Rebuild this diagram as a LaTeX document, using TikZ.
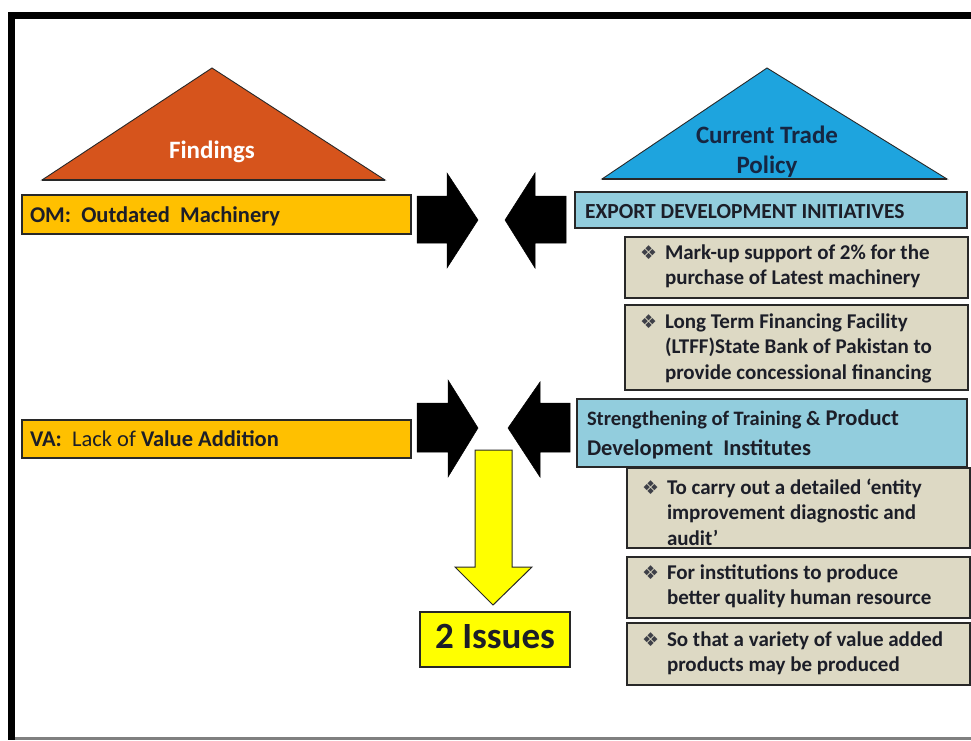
\documentclass[tikz,border=0pt]{standalone}
\usepackage{fontspec}
\setmainfont{Carlito}
\newfontfamily\dejavu{DejaVu Sans}
\definecolor{findc}{RGB}{214,84,28}
\definecolor{polc}{RGB}{30,164,222}
\definecolor{omc}{RGB}{255,192,0}
\definecolor{lblue}{RGB}{146,205,221}
\definecolor{tanc}{RGB}{221,217,196}
\definecolor{yel}{RGB}{255,255,0}
\definecolor{ink}{RGB}{28,30,40}
\definecolor{navy}{RGB}{22,38,66}
\definecolor{edge}{RGB}{40,40,40}
\newcommand\mybul{{\dejavu\fontsize{19}{19}\selectfont\color{ink!85}❖}}
\newcommand\bfont{\fontsize{21}{25.5}\selectfont\bfseries}
\begin{document}
\begin{tikzpicture}[x=1pt,y=-1pt,
  box/.style={draw=edge,line width=1.6pt,anchor=north west,inner sep=0pt,outer sep=0pt},
  btxt/.style={anchor=base west,inner sep=0pt,outer sep=0pt,text=ink},
  ctxt/.style={anchor=base,inner sep=0pt,outer sep=0pt},
  tri/.style={draw=edge,line width=0.9pt,line join=miter},
  blk/.style={fill=black,draw=black,line width=0.5pt,line join=miter},
  yarrow/.style={fill=yel,draw=edge,line width=1pt,line join=miter}]
\useasboundingbox (0,0) rectangle (971,740);
\fill[white] (0,0) rectangle (971,740);
% frame
\fill[black] (8,12) rectangle (971,19);
\fill[black] (8,12) rectangle (15,740);
\fill[black!50] (15,737) rectangle (971,740);

% triangles
\coordinate (fA) at (212,68);
\coordinate (fL) at (42,180);
\coordinate (fR) at (385,180);
\draw[tri,fill=findc] (fA) -- (fR) -- (fL) -- cycle;
\draw[edge,line width=1.6pt] (fL) -- (fR);
\node[ctxt,text=white,font=\fontsize{25}{30}\selectfont\bfseries] (findt) at (212,158) {Findings};

\coordinate (pA) at (767,68);
\coordinate (pL) at (602,179);
\coordinate (pR) at (947,179);
\draw[tri,fill=polc] (pA) -- (pR) -- (pL) -- cycle;
\draw[edge,line width=1.6pt] (pL) -- (pR);
\node[ctxt,text=navy,font=\fontsize{25}{30}\selectfont\bfseries] (polt) at (767,143)
  {\begin{tabular}[t]{@{}c@{}}Current Trade\\Policy\end{tabular}};

% left boxes
\node[box,fill=omc,minimum width=389pt,minimum height=39pt] (om) at (22,195) {};
\node[btxt,font=\fontsize{22.5}{26}\selectfont\bfseries] (omt) at (30,222) {OM:\ \ Outdated\ \ Machinery};
\node[box,fill=omc,minimum width=389pt,minimum height=38pt] (va) at (22,420) {};
\node[btxt,font=\fontsize{22.5}{26}\selectfont] (vat) at (30,446) {\textbf{VA:}\ \ Lack of \textbf{Value Addition}};

% right boxes
\node[box,fill=lblue,minimum width=392pt,minimum height=36pt] (edi) at (575,192) {};
\node[btxt,font=\fontsize{21.5}{25}\selectfont\bfseries] (edit) at (585,218) {EXPORT DEVELOPMENT INITIATIVES};

\node[box,fill=tanc,minimum width=343pt,minimum height=61pt] (mk) at (625,237) {};
\node[btxt,font=\bfont] (mkt) at (640,259) {\makebox[25pt][l]{\mybul}\begin{tabular}[t]{@{}l@{}}Mark-up support of 2\% for the\\purchase of Latest machinery\end{tabular}};

\node[box,fill=tanc,minimum width=343pt,minimum height=85pt] (lt) at (625,305) {};
\node[btxt,font=\bfont] (ltt) at (640,328) {\makebox[25pt][l]{\mybul}\begin{tabular}[t]{@{}l@{}}Long Term Financing Facility\\(LTFF)State Bank of Pakistan to\\provide concessional financing\end{tabular}};

\node[box,fill=lblue,minimum width=390pt,minimum height=68pt] (st) at (577,399) {};
\node[btxt,font=\fontsize{22.5}{30}\selectfont\bfseries] (stt) at (587,425) {\begin{tabular}[t]{@{}l@{}}{\fontsize{20.5}{30}\selectfont Strengthening of Training \&} Product\\Development\ \ Institutes\end{tabular}};

\node[box,fill=tanc,minimum width=343pt,minimum height=80pt] (en) at (627,468) {};
\node[btxt,font=\bfont] (ent) at (642,494) {\makebox[25pt][l]{\mybul}\begin{tabular}[t]{@{}l@{}}To carry out a detailed ‘entity\\improvement diagnostic and\\audit’\end{tabular}};

\node[box,fill=tanc,minimum width=343pt,minimum height=61pt] (in) at (627,557) {};
\node[btxt,font=\bfont] (int) at (642,579) {\makebox[25pt][l]{\mybul}\begin{tabular}[t]{@{}l@{}}For institutions to produce\\better quality human resource\end{tabular}};

\node[box,fill=tanc,minimum width=343pt,minimum height=62pt] (so) at (627,623) {};
\node[btxt,font=\bfont] (sot) at (642,646) {\makebox[25pt][l]{\mybul}\begin{tabular}[t]{@{}l@{}}So that a variety of value added\\products may be produced\end{tabular}};

% black block arrows
\draw[blk] (417,196) -- (447,196) -- (447,173) -- (478,220) -- (447,268) -- (447,243) -- (417,243) -- cycle;
\draw[blk] (566,196) -- (535,196) -- (535,173) -- (505,220) -- (535,268) -- (535,243) -- (566,243) -- cycle;
\draw[blk] (417,403) -- (448,403) -- (448,380) -- (478,428) -- (448,477) -- (448,452) -- (417,452) -- cycle;
\draw[blk] (570,403) -- (540,403) -- (540,382) -- (508,428) -- (540,477) -- (540,452) -- (570,452) -- cycle;

% yellow arrow and result
\draw[yarrow] (475,450) -- (512,450) -- (512,567) -- (532,567) -- (493,605) -- (455,567) -- (475,567) -- cycle;
\node[box,fill=yel,minimum width=150pt,minimum height=55pt] (iss) at (420,612) {};
\node[ctxt,text=ink,font=\fontsize{37}{44}\selectfont\bfseries] (isst) at (495,648) {2 Issues};
\end{tikzpicture}
\end{document}
